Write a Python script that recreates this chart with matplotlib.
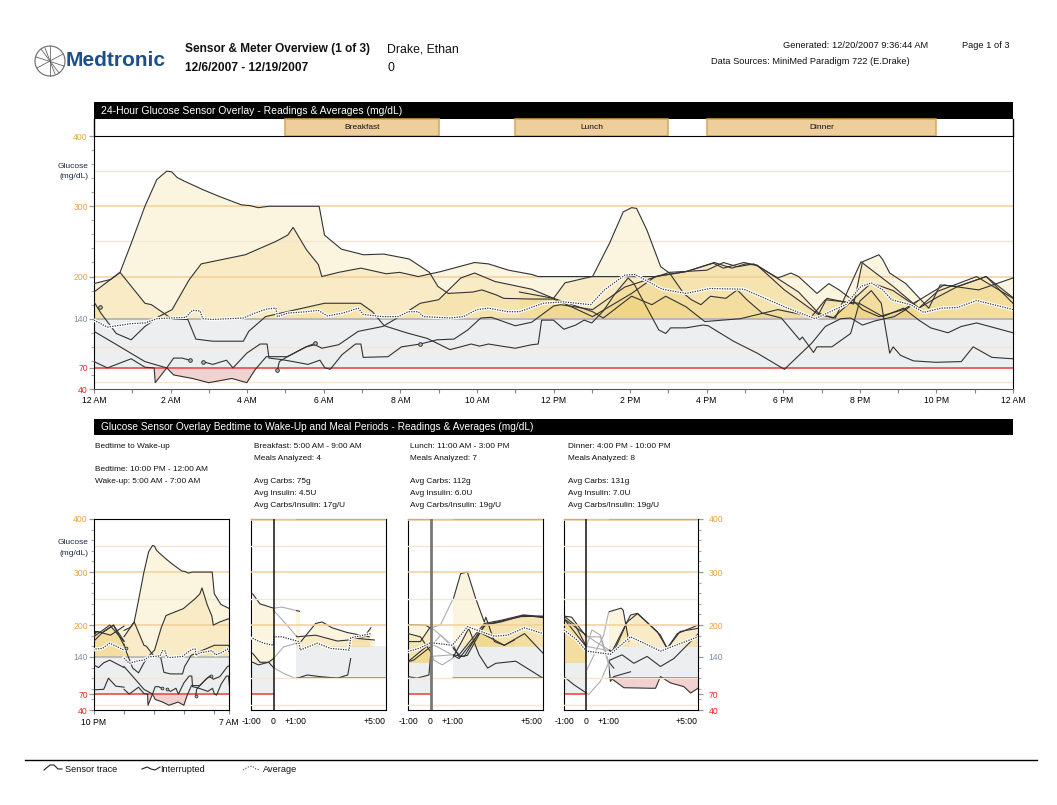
import numpy as np
import matplotlib
matplotlib.use('Agg')
import matplotlib.pyplot as plt
from matplotlib.patches import Rectangle, Circle

plt.rcParams['font.family'] = ['Liberation Sans', 'DejaVu Sans']

W, H = 1057, 805

# 24 hour overlay: hours after midnight and mg/dL, one pair per sensor day
a_hours = [0, .44, .68, .97, 1.33, 1.64, 1.9, 2.03, 2.17, 2.35, 2.83, 3.27, 3.85, 4.07, 4.29, 4.56, 5.88, 6.02, 6.46, 7.04, 7.57, 8.23, 8.76, 8.98, 9.25, 9.9, 10.13, 10.5, 10.7, 11.43, 12, 12.27, 13.02, 14.04, 14.66, 15.46, 16.17, 16.44, 16.97, 17.32, 18.03, 18.92, 19.36, 20.03, 20.87, 21.54, 22.03, 23.05, 24]
a_mg = [190, 196, 206, 247, 300, 338, 350, 349, 341, 336, 324, 314, 302, 301, 298, 300, 300, 259, 239, 231, 232, 225, 206, 186, 176, 178, 181, 174, 169, 168, 168, 162, 143, 176, 200, 207, 219, 212, 220, 216, 181, 146, 141, 221, 186, 155, 179, 200, 169]
b_hours = [0, .68, 1.33, 1.5, 1.95, 2.08, 2.45, 2.66, 3.1, 3.9, 4.04, 4.48, 5.2, 6.02, 6.96, 7.27, 7.58, 8.16, 8.7, 9.3, 9.85, 10.07, 10.3, 11, 11.43, 11.6, 11.69, 12, 12.27, 12.58, 12.8, 13.0, 13.3, 13.6, 13.95, 14.1, 14.75, 14.93, 15.06, 15.46, 15.9, 16.04, 16.7, 17.32, 18.03, 18.74, 19.1, 19.5, 19.76, 20.07, 20.4, 20.9, 21.2, 21.5]
b_mg = [178, 206, 162, 160, 143, 139, 139, 111, 108, 108, 122, 143, 152, 162, 162, 150, 130, 120, 112, 96, 104, 101, 104, 98, 103, 104, 138, 138, 125, 131, 138, 134, 151, 175, 198, 190, 124, 119, 127, 127, 131, 130, 108, 91, 68, 105, 129, 140, 141, 131, 137, 143, 153, 165]
c_hours = [0, .18, .58, .97, 1.33, 1.69, 2.04, 2.48, 2.8, 3.06, 3.95, 4.75, 5.06, 5.2, 5.55, 5.86, 5.95, 6.39, 6.97, 7.63, 7.98, 8.47, 9.05, 9.94, 10.3, 10.83, 11.43, 11.6, 13.02, 13.46, 13.82, 14.04, 14.17, 14.44, 14.8, 15.03, 15.4, 15.6, 15.85, 16.1, 16.5, 16.8, 17.05, 17.45, 17.95, 18.43, 18.5, 18.79, 18.88, 19.27, 19.76, 20, 20.3, 20.56, 20.78, 20.87, 21.06, 21.4, 21.98, 22.65, 22.96, 23.45, 24]
c_mg = [164, 148, 119, 110, 129, 143, 153, 195, 218, 221, 231, 250, 259, 270, 238, 217, 200, 206, 212, 204, 206, 200, 207, 220, 218, 209, 203, 200, 200, 247, 292, 298, 297, 266, 214, 205, 176, 167, 160, 172, 169, 181, 167, 148, 141, 110, 114, 92, 100, 100, 119, 165, 180, 162, 91, 100, 88, 80, 78, 79, 100, 85, 83]
d_hours = [0, .53, 1.33, 1.9, 2.08, 2.57, 3.0, 3.6, 3.99, 4.2, 4.5, 5.05, 5.54, 5.77]
d_mg = [122, 105, 79, 70, 60, 55, 49, 55, 49, 67, 86, 86, 100, 105]
e_hours = [0, .35, .97, 1.33, 1.57, 1.6, 1.9, 2.08, 2.3, 2.5]
e_mg = [79, 70, 83, 71, 70, 49, 70, 84, 84, 81]
f_hours = [2.84, 3.1, 3.46, 3.63, 3.99, 4.34, 4.52, 4.57, 4.88, 5.2, 5.59, 5.9, 6.03, 6.17, 6.48, 6.83, 6.97, 7.03, 7.68, 8.03, 8.52, 8.96, 9.4, 9.76, 10.1, 10.38, 11, 11.43, 12, 12.18, 13.02, 13.86, 15.03, 16, 16.44, 16.8, 17.23, 17.86, 18.2, 18.4, 18.88, 19.19, 19.46, 19.8, 20.07, 20.5, 21.14, 21.5, 22.2, 23.1, 24]
f_mg = [79, 75, 81, 70, 91, 104, 104, 84, 82, 79, 75, 81, 70, 68, 89, 104, 104, 85, 86, 100, 104, 110, 111, 124, 141, 142, 130, 135, 158, 160, 153, 185, 206, 209, 220, 214, 218, 198, 205, 200, 176, 190, 181, 167, 153, 143, 153, 165, 188, 181, 198]
g_hours = [4.79, 4.84, 5.05, 5.54, 5.77, 5.95, 6.39, 6.9, 7.54, 7.98, 8.52, 9, 9.58, 9.94, 10.47, 11.43, 12, 13.02, 13.3, 14.04, 14.57, 14.93, 15.46, 15.95, 16.88, 17.86, 18.74, 19.1, 19.98, 20.6, 21.14, 21.54, 21.85, 22.3, 22.65, 23.05, 24]
g_mg = [67, 79, 86, 100, 103, 98, 103, 122, 129, 143, 162, 167, 198, 205, 193, 182, 169, 150, 141, 172, 160, 172, 157, 136, 140, 153, 143, 167, 162, 143, 155, 138, 127, 120, 129, 134, 120]
k_hours = [11.11, 12, 12.3, 13, 14.66, 15.46, 16.2, 16.66, 17.02, 17.32, 18.4, 18.92, 19.3, 20.3, 20.87, 21.54, 22, 22.56, 23.3, 24]
k_mg = [178, 169, 191, 200, 200, 207, 220, 212, 218, 216, 178, 148, 141, 191, 180, 155, 170, 186, 200, 170]
o_hours = [18.92, 19.14, 19.84, 20.07, 20.5, 20.6, 20.78, 21.2, 21.8, 22.1, 22.56, 23.3, 24]
o_mg = [146, 169, 161, 221, 231, 224, 205, 190, 155, 188, 186, 200, 162]
avg_hours = [0, .35, .97, 1.33, 1.64, 2, 2.4, 2.57, 2.77, 2.84, 3.1, 3.9, 4.2, 4.52, 4.75, 4.79, 5.06, 5.55, 5.85, 6.1, 6.5, 6.9, 7.03, 7.55, 7.95, 8.2, 8.47, 8.6, 9.3, 9.65, 10, 10.3, 10.8, 11.11, 11.73, 12.26, 12.97, 13.33, 13.86, 14.13, 14.84, 15.46, 16.08, 16.97, 18.03, 18.83, 19.63, 20.03, 20.3, 20.6, 20.83, 21.32, 21.67, 22.12, 22.56, 23.05, 24]
avg_mg = [138, 128, 133, 134, 140, 141, 142, 152, 151, 140, 139, 141, 148, 154, 155, 143, 148, 150, 152, 144, 148, 155, 146, 143, 143, 150, 150, 143, 141, 143, 153, 155, 150, 150, 162, 164, 160, 181, 202, 203, 182, 176, 183, 182, 157, 140, 160, 186, 191, 181, 167, 160, 149, 155, 156, 166, 153]
meter_hours = [.16, 2.5, 2.84, 4.79, 5.77, 8.52]
meter_mg = [156, 81, 79, 67, 105, 104]

# breakfast period, hours from the meal
bf1_h = [-.93, -.6, 0, .37, 1.16]
bf1_mg = [259, 240, 232, 234, 226]
bf2_h = [-.93, -.6, -.22, 0, .45, 1.04, 1.22, 1.87, 2.16, 2.6, 3.28, 4.25]
bf2_mg = [147, 130, 130, 137, 159, 166, 169, 203, 206, 195, 186, 178]
bf3_h = [-.93, -.67, -.22, 0, .45, 1, 1.5, 2.05, 2.84, 3.3, 3.43]
bf3_mg = [130, 125, 130, 120, 109, 99, 106, 103, 100, 106, 137]
bf4_h = [0, .6, 1.04, 1.87, 2.84, 3.36, 3.43, 4.03, 4.33]
bf4_mg = [228, 200, 178, 181, 170, 172, 176, 178, 195]
bf5_h = [3.43, 4.48]
bf5_mg = [176, 172]
bf_avg_h = [-.93, -.45, 0, .01, .37, 1.12, 1.19, 1.94, 2.54, 3.36, 3.43, 4.33]
bf_avg_mg = [175, 166, 162, 178, 178, 169, 153, 166, 156, 153, 176, 184]

# lunch period
lu1_h = [-1, -.22, 0, .45, 1.04, 1.34, 1.64, 2.01, 2.39, 2.46, 2.84, 3.28, 3.73]
lu1_mg = [201, 200, 194, 201, 253, 297, 300, 250, 206, 215, 169, 162, 172]
lu2_h = [-1, -.45, 0, .15, .52, .97, 1.4, 1.7, 2.16, 2.54, 2.9, 3.79, 5]
lu2_mg = [184, 178, 150, 134, 125, 137, 170, 194, 144, 119, 128, 132, 100]
lu3_h = [-1, -.75, 0, .45, 1.04, 1.27, 1.64, 2.39, 3.13, 4.18, 5]
lu3_mg = [131, 134, 159, 181, 159, 140, 143, 200, 206, 219, 216]
lu4_h = [-1, 0, 1.27, 2.46, 4.03, 5]
lu4_mg = [131, 166, 137, 201, 216, 217]
lu5_h = [-1, -.45, 0, .6, 1.27, 2.39, 3.13, 4.1, 5]
lu5_mg = [169, 169, 197, 175, 144, 203, 209, 219, 214]
lu6_h = [-1, -.6, -.07, 0, .97, 1.5, 2.16, 2.84, 3.28, 4.18, 5]
lu6_mg = [103, 100, 106, 141, 144, 141, 187, 172, 162, 184, 147]
lu_avg_h = [-1, -.45, 0, .97, 1.64, 2.84, 3.43, 4.18, 5]
lu_avg_mg = [150, 157, 167, 162, 197, 179, 181, 195, 184]

# dinner period
di1_h = [-1, -.66, 0, .63, 1, 1.08, 1.23, 1.98]
di1_mg = [217, 215, 178, 178, 125, 94, 103, 112]
di2_h = [.03, .48, .78, 1, 1.56, 1.65, 1.9]
di2_mg = [116, 156, 181, 225, 232, 228, 170]
di3_h = [-1, 0, .4, 1.15, 1.98, 2.28, 3.17, 3.62, 4.07, 5]
di3_mg = [212, 181, 169, 150, 219, 222, 188, 156, 184, 200]
di4_h = [-1, -.5, 0, 1.23, 1.83, 2.3, 3.32, 3.62, 4.2, 5]
di4_mg = [217, 200, 160, 150, 206, 222, 181, 156, 188, 194]
di5_h = [-1, -.57, 0, .1, .63, 1.05, 1.6, 2.13, 2.72, 3.32, 3.92, 5]
di5_mg = [103, 88, 72, 69, 94, 134, 144, 128, 141, 122, 137, 183]
di6_h = [1.1, 1.68, 2.87, 3.1, 3.32, 3.77, 4.37, 4.67, 5]
di6_mg = [100, 82, 81, 81, 103, 91, 84, 72, 81]
di7_h = [-1, 0, .25, .63, 1, 1.23]
di7_mg = [212, 159, 191, 181, 131, 119]
di_avg_h = [-1, -.42, 0, 1.08, 1.98, 3.32, 5]
di_avg_mg = [191, 172, 151, 145, 178, 151, 178]

hour_labels = ['12 AM', '2 AM', '4 AM', '6 AM', '8 AM', '10 AM', '12 PM', '2 PM', '4 PM', '6 PM', '8 PM', '10 PM', '12 AM']
meal_names = ['Breakfast', 'Lunch', 'Dinner']
meal_starts = [5, 11, 16]
meal_ends = [9, 15, 22]
y_ticks = [40, 70, 140, 200, 300, 400]
y_tick_colors = ['#f02020', '#f02020', '#7f8fa8', '#e8a440', '#e8a440', '#e8a440']

day_traces = [(a_hours, a_mg), (b_hours, b_mg), (c_hours, c_mg), (d_hours, d_mg), (e_hours, e_mg),
              (f_hours, f_mg), (g_hours, g_mg), (k_hours, k_mg), (o_hours, o_mg)]
breakfast_traces = [(bf1_h, bf1_mg), (bf2_h, bf2_mg), (bf3_h, bf3_mg), (bf4_h, bf4_mg), (bf5_h, bf5_mg)]
lunch_traces = [(lu1_h, lu1_mg), (lu2_h, lu2_mg), (lu3_h, lu3_mg), (lu4_h, lu4_mg), (lu5_h, lu5_mg), (lu6_h, lu6_mg)]
dinner_traces = [(di1_h, di1_mg), (di2_h, di2_mg), (di3_h, di3_mg), (di4_h, di4_mg), (di5_h, di5_mg), (di6_h, di6_mg), (di7_h, di7_mg)]

fig = plt.figure(figsize=(W / 100, H / 100), dpi=100)

# page layer in pixel coordinates for header, bars and footer
page = fig.add_axes([0, 0, 1, 1])
page.set_xlim(0, W)
page.set_ylim(H, 0)
page.axis('off')


def px_axes(left, top, right, bottom):
    return fig.add_axes([left / W, 1 - bottom / H, (right - left) / W, (bottom - top) / H])


def txt(x, y, s, size=5.95, **kw):
    kw.setdefault('va', 'center')
    kw.setdefault('color', '#111111')
    page.text(x, y, s, fontsize=size, **kw)


def draw_grid(ax, x0, x1, z=2):
    for v in [350, 250, 100, 50]:
        ax.plot([x0, x1], [v, v], color='#f6e6d0', lw=1, zorder=z)
    for v in [300, 200]:
        ax.plot([x0, x1], [v, v], color='#f2d09a', lw=1.1, zorder=z)


def fill_trace(ax, hours, mg, high, low, span=None):
    hours = np.array(hours, dtype=float)
    mg = np.array(mg, dtype=float)
    up = ax.fill_between(hours, mg, high, where=mg >= high, interpolate=True, color='#eec85f', alpha=.2, lw=0, zorder=1)
    down = ax.fill_between(hours, mg, low, where=mg <= low, interpolate=True, color='#d87070', alpha=.32, lw=0, zorder=1)
    if span is not None:
        for poly in (up, down):
            poly.set_clip_path(Rectangle((span[0], 40), span[1] - span[0], 360, transform=ax.transData))


def draw_avg(ax, hours, mg):
    ax.plot(hours, mg, color='white', lw=2.4, zorder=6)
    ax.plot(hours, mg, color='#333333', lw=.9, ls=(0, (1, 1)), zorder=7)


def style_y(ax):
    ax.set_ylim(40, 400)
    ax.set_yticks(y_ticks)
    ax.set_yticks(range(60, 400, 20), minor=True)
    ax.tick_params(axis='y', which='major', length=3.5, width=.9, color='#999999', labelsize=6.2, pad=1)
    ax.tick_params(axis='y', which='minor', length=2.5, width=.8, color='#aaaaaa')
    for lab, col in zip(ax.get_yticklabels(), y_tick_colors):
        lab.set_color(col)


# 24 hour panel
ax = px_axes(94, 136, 1013, 389)
ax.set_xlim(0, 24)
style_y(ax)
ax.fill_between([0, 24], 70, 140, color='#eceef0', lw=0, zorder=0)
for hours, mg in day_traces:
    fill_trace(ax, hours, mg, 140, 70)
draw_grid(ax, 0, 24)
ax.plot([0, 24], [140, 140], color='#b5b5b0', lw=1.3, zorder=2)
ax.plot([0, 24], [70, 70], color='#f04848', lw=1.2, zorder=2)
for hours, mg in day_traces:
    ax.plot(hours, mg, color='#333333', lw=.8, zorder=3)
draw_avg(ax, avg_hours, avg_mg)
ax.plot(meter_hours, meter_mg, ls='none', marker='o', ms=2.6, mfc='#bbbbbb', mec='#333333', mew=.7, zorder=8)
ax.set_xticks(range(0, 25, 2))
ax.set_xticklabels(hour_labels)
ax.set_xticks(range(1, 24, 2), minor=True)
ax.tick_params(axis='x', which='both', length=3, width=.8, color='#888888', labelsize=6.2, pad=2)
ax.spines['bottom'].set_color('#555555')

# small panels
panel_1 = px_axes(94, 519, 229, 710)
panel_1.set_xlim(-2, 7)
style_y(panel_1)
panel_1.fill_between([-2, 7], 70, 140, color='#eceef0', lw=0, zorder=0)
for hours, mg in day_traces:
    for shift in (-24, 0):
        fill_trace(panel_1, np.array(hours) + shift, mg, 140, 70)
draw_grid(panel_1, -2, 7)
panel_1.plot([-2, 7], [140, 140], color='#b5b5b0', lw=1.2, zorder=2)
panel_1.plot([-2, 7], [70, 70], color='#f04848', lw=1.2, zorder=2)
for hours, mg in day_traces:
    for shift in (-24, 0):
        panel_1.plot(np.array(hours) + shift, mg, color='#333333', lw=.8, zorder=3)
for shift in (-24, 0):
    draw_avg(panel_1, np.array(avg_hours) + shift, avg_mg)
panel_1.plot(meter_hours, meter_mg, ls='none', marker='o', ms=2, mfc='#bbbbbb', mec='#333333', mew=.6, zorder=8)
panel_1.set_xticks([-2, 0, 2, 4, 6, 7])
panel_1.set_xticklabels(['10 PM', '', '', '', '', '7 AM'])
panel_1.tick_params(axis='x', length=3, width=.8, color='#888888', labelsize=6.2, pad=3)


def meal_panel(left, right, traces, avg_h, avg_mg_vals, zero_style):
    m = px_axes(left, 519, right, 710)
    m.set_xlim(-1, 5)
    style_y(m)
    windows = [(-1, 0, 130, 70), (1, 5, 160, 100)]
    for lo, hi, top, bot in windows:
        m.fill_between([lo, hi], bot, top, color='#eceef0', lw=0, zorder=0)
        for hours, mg in traces:
            fill_trace(m, hours, mg, top, bot, span=(lo, hi))
    for lo, hi, top, bot in windows:
        m.plot([lo, hi], [bot, bot], color='#f04848', lw=1.2, zorder=2)
    for hours, mg in traces:
        m.plot(hours, mg, color='#333333', lw=.8, zorder=3)
    # first hour after the meal is washed out, the grid stays on top of it
    m.fill_between([0, 1], 40, 400, color='white', alpha=.6, lw=0, zorder=4)
    draw_grid(m, -1, 5, z=5)
    m.plot([-1, 5], [399, 399], color='#f2d09a', lw=1.2, zorder=5)
    draw_avg(m, avg_h, avg_mg_vals)
    m.axvline(0, zorder=8, **zero_style)
    m.set_xticks([-1, 0, 1, 5])
    labels = m.set_xticklabels(['-1:00', '0', '+1:00', '+5:00'])
    labels[3].set_ha('right')
    labels[3].set_x(5)
    m.tick_params(axis='x', length=0, labelsize=6.2, pad=5)
    m.tick_params(axis='y', which='both', left=False, labelleft=False)
    return m


meal_panel(251, 386, breakfast_traces, bf_avg_h, bf_avg_mg, dict(color='#111111', lw=1.1))
meal_panel(408, 543, lunch_traces, lu_avg_h, lu_avg_mg, dict(color='#777777', lw=2))
panel_4 = meal_panel(564, 698, dinner_traces, di_avg_h, di_avg_mg, dict(color='#111111', lw=1.1))
panel_4.yaxis.tick_right()
panel_4.tick_params(axis='y', which='major', right=True, labelright=True, length=3.5, color='#999999', pad=4)
panel_4.tick_params(axis='y', which='minor', right=True, length=2.5, color='#aaaaaa')
for lab, col in zip(panel_4.get_yticklabels(), y_tick_colors):
    lab.set_color(col)

# header
page.add_patch(Circle((50, 61), 15, fc='none', ec='#777777', lw=.9))
for dx0, dy0, dx1, dy1 in [(-14, -4, 14, 5), (-9, -12, 9, 12), (-13, 7, 13, -7), (0, -15, 0, 15), (-5, -13, 5, 13)]:
    page.plot([50 + dx0, 50 + dx1], [61 + dy0, 61 + dy1], color='#666666', lw=.6)
page.text(66, 61, 'Medtronic', fontsize=15, fontweight='bold', color='#1d4f8c', va='center')
txt(185, 49, 'Sensor & Meter Overview (1 of 3)', size=8.6, fontweight='bold')
txt(185, 68, '12/6/2007 - 12/19/2007', size=8.6, fontweight='bold')
txt(387, 49, 'Drake, Ethan', size=8.8)
txt(387, 68, '0', size=8.8)
txt(783, 45, 'Generated: 12/20/2007 9:36:44 AM', size=6.65)
txt(962, 45, 'Page 1 of 3', size=6.65)
txt(711, 61, 'Data Sources: MiniMed Paradigm 722 (E.Drake)', size=6.65)

# title bars and meal strip
page.add_patch(Rectangle((94, 102), 919, 17, fc='black', ec='none'))
txt(101, 110.5, '24-Hour Glucose Sensor Overlay - Readings & Averages (mg/dL)', size=7.45, color='white')
page.add_patch(Rectangle((94, 119), 919, 17, fc='white', ec='none'))
page.plot([1013, 1013], [119, 136], color='black', lw=1)
page.plot([94, 94], [119, 136], color='black', lw=1)
hour_px = 919 / 24
for name, start, end in zip(meal_names, meal_starts, meal_ends):
    x0 = 94 + start * hour_px
    x1 = 94 + end * hour_px
    page.add_patch(Rectangle((x0, 119), x1 - x0, 17, fc='#eecf9c', ec='#d9a455', lw=1.1))
    txt((x0 + x1) / 2, 127.5, name, size=6, ha='center')
page.add_patch(Rectangle((94, 419), 919, 16, fc='black', ec='none'))
txt(101, 427, 'Glucose Sensor Overlay Bedtime to Wake-Up and Meal Periods - Readings & Averages (mg/dL)', size=7.3, color='white')

txt(88, 167, 'Glucose', size=6, ha='right', color='#1a2a44')
txt(88, 177, '(mg/dL)', size=6, ha='right', color='#1a2a44')
txt(88, 542, 'Glucose', size=6, ha='right', color='#1a2a44')
txt(88, 553, '(mg/dL)', size=6, ha='right', color='#1a2a44')

# period notes
txt(95, 446, 'Bedtime to Wake-up')
txt(95, 469, 'Bedtime: 10:00 PM - 12:00 AM')
txt(95, 481, 'Wake-up: 5:00 AM - 7:00 AM')
note_x = [254, 410, 568]
note_titles = ['Breakfast: 5:00 AM - 9:00 AM', 'Lunch: 11:00 AM - 3:00 PM', 'Dinner: 4:00 PM - 10:00 PM']
note_meals = ['Meals Analyzed: 4', 'Meals Analyzed: 7', 'Meals Analyzed: 8']
note_carbs = ['Avg Carbs: 75g', 'Avg Carbs: 112g', 'Avg Carbs: 131g']
note_insulin = ['Avg Insulin: 4.5U', 'Avg Insulin: 6.0U', 'Avg Insulin: 7.0U']
note_ratio = ['Avg Carbs/Insulin: 17g/U', 'Avg Carbs/Insulin: 19g/U', 'Avg Carbs/Insulin: 19g/U']
for x, t, m, c, i, r in zip(note_x, note_titles, note_meals, note_carbs, note_insulin, note_ratio):
    txt(x, 446, t)
    txt(x, 458, m)
    txt(x, 481, c)
    txt(x, 493, i)
    txt(x, 505, r)

# footer legend
page.plot([25, 1037], [760, 760], color='black', lw=1)
page.plot([44, 50, 54, 58, 62], [770, 765, 765, 769, 769], color='#222222', lw=.8)
txt(65, 769, 'Sensor trace', size=6.6)
page.plot([142, 147, 151, 155, 160], [769, 767, 769, 770, 767], color='#222222', lw=.8)
txt(160, 769, 'Interrupted', size=6.6)
page.plot([243, 248, 252, 256, 260], [770, 767, 766, 769, 770], color='#444444', lw=.8, ls=(0, (1, 1.5)))
txt(263, 769, 'Average', size=6.6)

fig.savefig('out.png', dpi=100)
